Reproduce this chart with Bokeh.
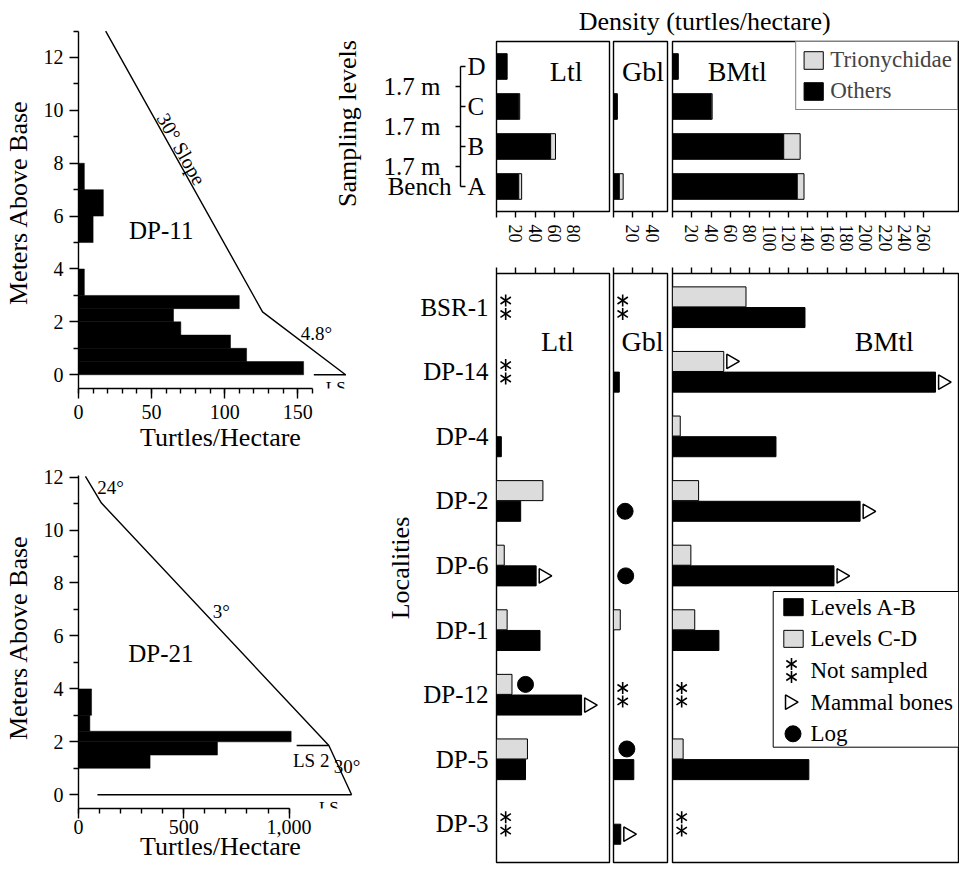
import math
from bokeh.plotting import figure
from bokeh.models import Range1d, FixedTicker, LinearAxis, Label, Legend, LegendItem
from bokeh.layouts import row, column
from bokeh.embed import file_html
from bokeh.resources import INLINE
from bokeh.core.properties import value

FONT = "Liberation Serif"
GRAY = "#dcdcdc"
LW = 1.4
PX = 0.967  # screen px per turtle/hectare on the right-hand panels

# ---------------- data ----------------
# DP-11 section
dp11_bin_bottom = [0, 0.5, 1, 1.5, 2, 2.5, 3, 5, 6, 7]
dp11_bin_top = [0.5, 1, 1.5, 2, 2.5, 3, 4, 6, 7, 8]
dp11_density = [154, 115, 104, 70, 65, 110, 4, 10, 17, 4]
dp11_profile_x = [18.6, 125.9, 182.7]
dp11_profile_y = [13.0, 2.38, 0.0]
dp11_ls_x = [161, 183]
dp11_ls_y = [0, 0]

# DP-21 section
dp21_bin_bottom = [1, 1.5, 2, 2.4, 3]
dp21_bin_top = [1.5, 2, 2.4, 3, 4]
dp21_density = [340, 660, 1010, 54, 62]
dp21_profile_x = [33, 109, 1189, 1297]
dp21_profile_y = [12.03, 11.02, 1.86, 0.0]
dp21_ls2_x = [1036, 1189]
dp21_ls2_y = [1.86, 1.86]
dp21_ls_x = [90, 1297]
dp21_ls_y = [0, 0]

# Sampling levels (A = bench ... D)
levels = ["A", "B", "C", "D"]
level_gap_label = "1.7 m"
bench_label = "Bench"
ltl_others = [23, 56, 23, 11]
ltl_trion = [3, 5, 1, 0]
gbl_others = [6, 0, 4, 0]
gbl_trion = [4, 0, 0, 0]
bmtl_others = [129, 115, 40, 6]
bmtl_trion = [7, 17, 1, 0]

# Localities (None = not sampled)
localities = ["BSR-1", "DP-14", "DP-4", "DP-2", "DP-6", "DP-1", "DP-12", "DP-5", "DP-3"]
ltl_ab = [None, None, 5, 25, 41, 45, 88, 30, None]
ltl_cd = [None, None, 0, 48, 8, 11, 16, 32, None]
gbl_ab = [None, 6, 0, 0, 0, 0, None, 21, 7.5]
gbl_cd = [None, 0, 0, 0, 0, 7, None, 0, 0]
bmtl_ab = [137, 272, 107, 194, 167, 48, None, 141, None]
bmtl_cd = [76, 53, 8, 27, 19, 23, None, 11, None]

bones_panel = ["Ltl", "Ltl", "Gbl", "BMtl", "BMtl", "BMtl", "BMtl"]
bones_locality = ["DP-6", "DP-12", "DP-3", "DP-14", "DP-14", "DP-2", "DP-6"]
bones_level = ["A-B", "A-B", "A-B", "C-D", "A-B", "A-B", "A-B"]

log_panel = ["Ltl", "Gbl", "Gbl", "Gbl"]
log_locality = ["DP-12", "DP-2", "DP-6", "DP-5"]
log_level = ["C-D", "A-B", "A-B", "C-D"]
log_x = [30, 12, 12.6, 13.8]

legend_labels = ["Levels A-B", "Levels C-D", "Not sampled", "Mammal bones", "Log"]


# ---------------- helpers ----------------
def base_fig(w, h, xr, yr, left, right, top, bottom):
    p = figure(width=w, height=h, x_range=xr, y_range=yr, output_backend="svg",
               toolbar_location=None, x_axis_location=None, y_axis_location=None,
               min_border_left=left, min_border_right=right,
               min_border_top=top, min_border_bottom=bottom)
    p.grid.visible = False
    p.outline_line_color = None
    p.background_fill_color = "white"
    p.border_fill_color = "white"
    return p


def style_axis(ax, label_size="20px"):
    ax.axis_line_color = "black"
    ax.axis_line_width = LW
    ax.major_tick_line_color = "black"
    ax.major_tick_line_width = LW
    ax.minor_tick_line_color = "black"
    ax.minor_tick_line_width = LW
    ax.major_tick_in = 0
    ax.minor_tick_in = 0
    ax.major_label_text_font = FONT
    ax.major_label_text_font_size = label_size
    ax.major_label_text_color = "black"
    ax.axis_label_text_font = FONT
    ax.axis_label_text_font_size = "26px"
    ax.axis_label_text_font_style = "normal"
    ax.axis_label_text_color = "black"


def add_label(p, x, y, text, size, angle=0.0, align="center"):
    p.add_layout(Label(x=x, y=y, text=text, text_font=FONT, text_font_size=size,
                       text_align=align, text_baseline="middle", angle=angle,
                       text_color="black"))


def add_text(p, xs, ys, texts, size, align="center", baseline="middle", **kw):
    p.text(x=xs, y=ys, text=texts, text_font=value(FONT), text_font_size=value(size),
           text_align=align, text_baseline=baseline, text_color="black", **kw)


def section_fig(w, h, xmax, yr, top_border, bottom_border, bins_b, bins_t, dens, xticks, xminor,
                xbounds, ybounds, yminor, x_overrides, lab_standoff, axlab_standoff):
    p = base_fig(w, h, Range1d(0, xmax), yr, 77, 0, top_border, bottom_border)
    p.hbar(y=[(b + t) / 2 for b, t in zip(bins_b, bins_t)],
           height=[t - b for b, t in zip(bins_b, bins_t)],
           left=0, right=dens, fill_color="black", line_color="black", line_width=0.5)
    xa = LinearAxis(ticker=FixedTicker(ticks=xticks, minor_ticks=xminor), bounds=xbounds,
                    axis_label="Turtles/Hectare", major_label_overrides=x_overrides)
    style_axis(xa)
    xa.major_tick_out = 10
    xa.minor_tick_out = 5
    xa.major_label_standoff = lab_standoff
    xa.axis_label_standoff = axlab_standoff
    p.add_layout(xa, "below")
    ya = LinearAxis(ticker=FixedTicker(ticks=list(range(0, 13, 2)), minor_ticks=yminor),
                    bounds=ybounds, axis_label="Meters Above Base")
    style_axis(ya)
    ya.major_tick_out = 9
    ya.minor_tick_out = 5
    ya.major_label_standoff = 6
    ya.axis_label_standoff = 8
    p.add_layout(ya, "left")
    return p


# ---------------- DP-11 ----------------
p11 = section_fig(362, 458, 194.3, Range1d(-0.52, 13.55), 16, 70,
                  dp11_bin_bottom, dp11_bin_top, dp11_density,
                  [0, 50, 100, 150], list(range(0, 161, 10)), (0, 160),
                  (-0.52, 13), list(range(1, 14, 2)), {}, 6, 1)
p11.line(dp11_profile_x, dp11_profile_y, line_color="black", line_width=LW)
p11.line(dp11_ls_x, dp11_ls_y, line_color="black", line_width=LW)
add_label(p11, 56.6, 5.46, "DP-11", "25px")
add_label(p11, 70.4, 8.54, "30° Slope", "20px", angle=-1.06)
add_label(p11, 162.8, 1.55, "4.8°", "19px")
add_text(p11, [176], [-0.49], ["LS"], "17px", baseline="alphabetic")
add_label(p11, 184, 9.5, "Sampling levels", "26px", angle=math.pi / 2)

# ---------------- DP-21 ----------------
p21 = section_fig(362, 410, 1348.8, Range1d(-0.518, 12.40), 8, 60,
                  dp21_bin_bottom, dp21_bin_top, dp21_density,
                  [0, 500, 1000], list(range(0, 1001, 100)), (0, 1000),
                  (-0.5, 12.05), list(range(1, 12, 2)), {1000: "1,000"}, 1, -5)
p21.line(dp21_profile_x, dp21_profile_y, line_color="black", line_width=LW)
p21.line(dp21_ls2_x, dp21_ls2_y, line_color="black", line_width=LW)
p21.line(dp21_ls_x, dp21_ls_y, line_color="black", line_width=LW)
add_label(p21, 152, 11.62, "24°", "19px")
add_label(p21, 678, 6.91, "3°", "19px")
add_label(p21, 391, 5.33, "DP-21", "25px")
add_label(p21, 1105, 1.30, "LS 2", "19px")
add_label(p21, 1275, 1.08, "30°", "19px")
add_text(p21, [1189], [-0.485], ["LS"], "17px", baseline="alphabetic")

# ---------------- header ----------------
ph = base_fig(597, 40, Range1d(362, 959), Range1d(40, 0), 0, 0, 0, 0)
add_text(ph, [707.5], [21], ["Density  (turtles/hectare)"], "26px")

# ---------------- sampling-level labels ----------------
TOP_YR = (0.375, 4.625)
pl = base_fig(133, 222, Range1d(362, 495), Range1d(*TOP_YR), 0, 0, 1, 51)
lev_y = [i + 1 for i in range(len(levels))]
mid_y = [i + 1.5 for i in range(len(levels) - 1)]
add_text(pl, [467] * len(levels), lev_y, levels, "25px", align="left")
add_text(pl, [440] * len(mid_y), mid_y, [level_gap_label] * len(mid_y), "25px", align="right")
add_text(pl, [451], [lev_y[0]], [bench_label], "25px", align="right")
pl.segment(x0=[460], y0=[lev_y[0]], x1=[460], y1=[lev_y[-1]], line_color="black", line_width=LW)
pl.segment(x0=[460] * len(lev_y), y0=lev_y, x1=[465] * len(lev_y), y1=lev_y,
           line_color="black", line_width=LW)
pl.segment(x0=[455] * len(mid_y), y0=mid_y, x1=[460] * len(mid_y), y1=mid_y,
           line_color="black", line_width=LW)


def top_panel(width, frame_w, bl, br, others, trion, ticks, title, title_x):
    p = base_fig(width, 222, Range1d(0, frame_w / PX), Range1d(*TOP_YR), bl, br, 1, 51)
    p.outline_line_color = "black"
    p.outline_line_width = LW
    ys = [i + 1 for i in range(len(levels))]
    by = [y for y, o in zip(ys, others) if o > 0]
    bv = [o for o in others if o > 0]
    rb = p.hbar(y=by, left=0, right=bv, height=0.64, fill_color="black", line_color="black",
                line_width=1)
    gy = [y for y, t in zip(ys, trion) if t > 0]
    gl = [o for o, t in zip(others, trion) if t > 0]
    gr = [o + t for o, t in zip(others, trion) if t > 0]
    rg = p.hbar(y=gy, left=gl, right=gr, height=0.64, fill_color=GRAY, line_color="black",
                line_width=1)
    add_text(p, [title_x], [3.88], [title], "28px")
    ax = LinearAxis(ticker=FixedTicker(ticks=ticks), major_label_overrides={0: ""},
                    major_label_orientation=-math.pi / 2)
    style_axis(ax, "18px")
    ax.axis_line_color = None
    ax.major_tick_out = 6
    ax.major_label_standoff = 7
    p.add_layout(ax, "below")
    return p, rb, rg


pt_ltl, _, _ = top_panel(116, 113, 1, 2, ltl_others, ltl_trion, [0, 20, 40, 60, 80], "Ltl", 72)
pt_gbl, _, _ = top_panel(58, 54, 2, 2, gbl_others, gbl_trion, [0, 20, 40], "Gbl", 30.5)
pt_bmtl, rb_b, rg_b = top_panel(290, 286, 3, 1, bmtl_others, bmtl_trion,
                                list(range(0, 261, 20)), "BMtl", 66.9)
top_legend = Legend(items=[LegendItem(label="Trionychidae", renderers=[rg_b]),
                           LegendItem(label="Others", renderers=[rb_b])],
                    location="top_right", margin=0, padding=5, spacing=5,
                    glyph_width=24, glyph_height=22, label_standoff=5,
                    label_text_font=FONT, label_text_font_size="23px",
                    border_line_color="black", border_line_width=1,
                    background_fill_color="white", background_fill_alpha=1)
pt_bmtl.add_layout(top_legend)


def bottom_panel(name, width, frame_w, bl, br, ab, cd, ticks, title_x):
    n = len(localities)
    p = base_fig(width, 606, Range1d(0, frame_w / PX), Range1d(-0.598, n - 1 + 0.522),
                 bl, br, 11, 6)
    p.outline_line_color = "black"
    p.outline_line_width = LW
    ys = [n - 1 - i for i in range(n)]
    cd_y = [y + 0.16 for y, v in zip(ys, cd) if v]
    cd_v = [v for v in cd if v]
    ab_y = [y - 0.16 for y, v in zip(ys, ab) if v]
    ab_v = [v for v in ab if v]
    if cd_v:
        p.hbar(y=cd_y, left=0, right=cd_v, height=0.31, fill_color=GRAY, line_color="black",
               line_width=1)
    if ab_v:
        p.hbar(y=ab_y, left=0, right=ab_v, height=0.31, fill_color="black", line_color="black",
               line_width=1)
    ns = [y for y, v in zip(ys, ab) if v is None]
    if ns:
        sx = [9.5] * (2 * len(ns))
        sy = [y + 0.104 for y in ns] + [y - 0.104 for y in ns]
        for ang in (0, math.pi):
            p.scatter(sx, sy, marker="y", size=12, angle=ang, line_color="black",
                      line_width=1.6)
    bx, by = [], []
    for pn, loc, lev in zip(bones_panel, bones_locality, bones_level):
        if pn != name:
            continue
        i = localities.index(loc)
        v = ab[i] if lev == "A-B" else cd[i]
        bx.append(v + 7.5)
        by.append(ys[i] - 0.16 if lev == "A-B" else ys[i] + 0.16)
    if bx:
        p.scatter(bx, by, marker="triangle", size=14.5, angle=-math.pi / 2,
                  fill_color="white", line_color="black", line_width=1.5)
    lx, ly = [], []
    for pn, loc, lev, xv in zip(log_panel, log_locality, log_level, log_x):
        if pn != name:
            continue
        i = localities.index(loc)
        lx.append(xv)
        ly.append(ys[i] - 0.16 if lev == "A-B" else ys[i] + 0.16)
    if lx:
        p.scatter(lx, ly, marker="circle", size=16, fill_color="black", line_color="black")
    add_text(p, [title_x], [7.47], [name], "28px")
    ax = LinearAxis(ticker=FixedTicker(ticks=ticks), major_label_overrides={t: "" for t in ticks})
    style_axis(ax, "1px")
    ax.axis_line_color = None
    ax.major_tick_out = 6
    ax.major_label_standoff = 0
    p.add_layout(ax, "above")
    return p


pb_ltl = bottom_panel("Ltl", 249, 113, 134, 2, ltl_ab, ltl_cd, [0, 20, 40, 60, 80], 63)
n_loc = len(localities)
ya = LinearAxis(ticker=FixedTicker(ticks=list(range(n_loc))),
                major_label_overrides={n_loc - 1 - i: nm for i, nm in enumerate(localities)},
                axis_label="Localities")
style_axis(ya, "25px")
ya.axis_line_color = None
ya.major_tick_out = 0
ya.major_label_standoff = 8
ya.axis_label_standoff = 2
pb_ltl.add_layout(ya, "left")

pb_gbl = bottom_panel("Gbl", 58, 54, 2, 2, gbl_ab, gbl_cd, [0, 20, 40], 30)
pb_bmtl = bottom_panel("BMtl", 290, 286, 3, 1, bmtl_ab, bmtl_cd, list(range(0, 281, 20)), 219)

# hand-drawn legend in frame-pixel coordinates of the BMtl locality panel
pb_bmtl.extra_x_ranges = {"lx": Range1d(0, 286)}
pb_bmtl.extra_y_ranges = {"ly": Range1d(589, 0)}
kw = dict(x_range_name="lx", y_range_name="ly")
pb_bmtl.quad(left=[100.7], right=[286], top=[318], bottom=[473.7], fill_color="white",
             line_color="black", line_width=1, **kw)
item_y = [333.7 + 31.65 * k for k in range(len(legend_labels))]
pb_bmtl.quad(left=[111.3], right=[130.7], top=[item_y[0] - 8.5], bottom=[item_y[0] + 8.5],
             fill_color="black", line_color="black", line_width=1, **kw)
pb_bmtl.quad(left=[111.3], right=[130.7], top=[item_y[1] - 8.5], bottom=[item_y[1] + 8.5],
             fill_color=GRAY, line_color="black", line_width=1, **kw)
for ang in (0, math.pi):
    pb_bmtl.scatter([119, 119], [item_y[2] - 6.5, item_y[2] + 6.5], marker="y", size=12,
                    angle=ang, line_color="black", line_width=1.6, **kw)
pb_bmtl.scatter([117.2], [item_y[3]], marker="triangle", size=14.5, angle=-math.pi / 2,
                fill_color="white", line_color="black", line_width=1.5, **kw)
pb_bmtl.scatter([120.5], [item_y[4]], marker="circle", size=16, fill_color="black",
                line_color="black", **kw)
add_text(pb_bmtl, [138] * len(legend_labels), item_y, legend_labels, "23px", align="left", **kw)

# ---------------- layout ----------------
left = column(p11, p21)
right = column(ph, row(pl, pt_ltl, pt_gbl, pt_bmtl), row(pb_ltl, pb_gbl, pb_bmtl))
layout = row(left, right)

open("out.html", "w").write(file_html(layout, INLINE))
